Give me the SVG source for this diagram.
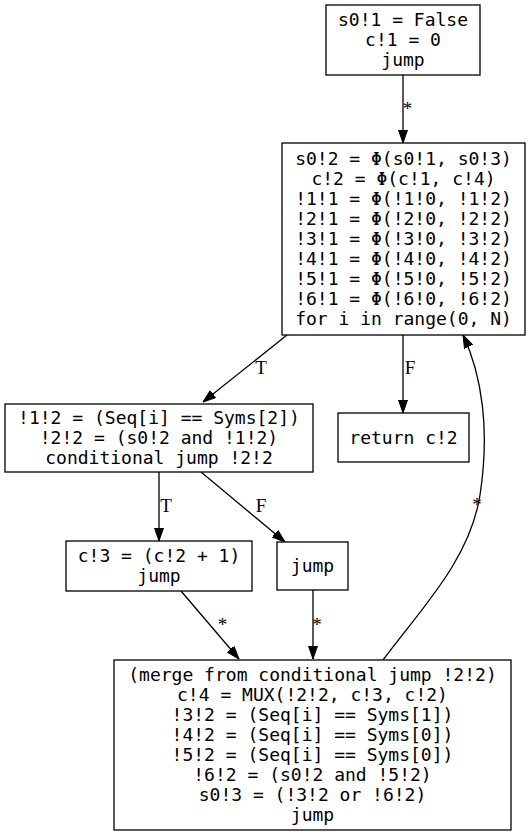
<svg xmlns="http://www.w3.org/2000/svg" width="530" height="836" viewBox="0 0 530 836">
<defs>
<style>
.node rect{fill:#fff;stroke:#000;stroke-width:1.3}
.node text{font-family:"DejaVu Sans Mono",monospace;font-size:18px;text-anchor:middle;fill:#000}
.edge path{fill:none;stroke:#000;stroke-width:1.3}
.lbl{font-family:"Liberation Serif","Times New Roman",serif;font-size:19px;text-anchor:middle;fill:#000}
</style>
<marker id="ah" markerUnits="userSpaceOnUse" markerWidth="13" markerHeight="10" viewBox="0 0 13 10" refX="13" refY="5" orient="auto">
<path d="M0,0.5 L13,5 L0,9.5 z" fill="#000" stroke="#000" stroke-width="1"/>
</marker>
</defs>
<rect width="530" height="836" fill="#fff"/>
<g id="connectors" class="edge">
<path d="M403,75 L403,143" marker-end="url(#ah)"/>
<path d="M287,335 L203,402" marker-end="url(#ah)"/>
<path d="M403,335 L403,413" marker-end="url(#ah)"/>
<path d="M159,472 L159,541" marker-end="url(#ah)"/>
<path d="M201,472 L285,542" marker-end="url(#ah)"/>
<path d="M181,591 L239,659" marker-end="url(#ah)"/>
<path d="M313,590 L313,659" marker-end="url(#ah)"/>
<path d="M383,660 C420,610 470,560 480,495 C490,430 482,375 463,335" marker-end="url(#ah)"/>
<text class="lbl" x="407.5" y="115">*</text>
<text class="lbl" x="261" y="374">T</text>
<text class="lbl" x="410" y="374">F</text>
<text class="lbl" x="166" y="512">T</text>
<text class="lbl" x="261" y="512">F</text>
<text class="lbl" x="222.5" y="631">*</text>
<text class="lbl" x="317" y="631">*</text>
<text class="lbl" x="477" y="511">*</text>
</g>
<g id="n0" class="node">
<rect x="326" y="5" width="154" height="70"/>
<text x="403" y="26">s0!1 = False</text>
<text x="403" y="46">c!1 = 0</text>
<text x="403" y="66">jump</text>
</g>
<g id="n1" class="node">
<rect x="282" y="143" width="243" height="192"/>
<text x="403.5" y="165">s0!2 = Φ(s0!1, s0!3)</text>
<text x="403.5" y="185">c!2 = Φ(c!1, c!4)</text>
<text x="403.5" y="205">!1!1 = Φ(!1!0, !1!2)</text>
<text x="403.5" y="225">!2!1 = Φ(!2!0, !2!2)</text>
<text x="403.5" y="245">!3!1 = Φ(!3!0, !3!2)</text>
<text x="403.5" y="265">!4!1 = Φ(!4!0, !4!2)</text>
<text x="403.5" y="285">!5!1 = Φ(!5!0, !5!2)</text>
<text x="403.5" y="305">!6!1 = Φ(!6!0, !6!2)</text>
<text x="403.5" y="325">for i in range(0, N)</text>
</g>
<g id="n2" class="node">
<rect x="5" y="404" width="308" height="68"/>
<text x="159" y="424">!1!2 = (Seq[i] == Syms[2])</text>
<text x="159" y="444">!2!2 = (s0!2 and !1!2)</text>
<text x="159" y="464">conditional jump !2!2</text>
</g>
<g id="n3" class="node">
<rect x="338" y="413" width="131" height="49"/>
<text x="403.5" y="444">return c!2</text>
</g>
<g id="n4" class="node">
<rect x="66" y="541" width="186" height="50"/>
<text x="159" y="562">c!3 = (c!2 + 1)</text>
<text x="159" y="582">jump</text>
</g>
<g id="n5" class="node">
<rect x="277" y="542" width="71" height="48"/>
<text x="312.5" y="572">jump</text>
</g>
<g id="n6" class="node">
<rect x="114" y="660" width="397" height="170"/>
<text x="312.5" y="681">(merge from conditional jump !2!2)</text>
<text x="312.5" y="701">c!4 = MUX(!2!2, c!3, c!2)</text>
<text x="312.5" y="721">!3!2 = (Seq[i] == Syms[1])</text>
<text x="312.5" y="741">!4!2 = (Seq[i] == Syms[0])</text>
<text x="312.5" y="761">!5!2 = (Seq[i] == Syms[0])</text>
<text x="312.5" y="781">!6!2 = (s0!2 and !5!2)</text>
<text x="312.5" y="801">s0!3 = (!3!2 or !6!2)</text>
<text x="312.5" y="821">jump</text>
</g>
</svg>
